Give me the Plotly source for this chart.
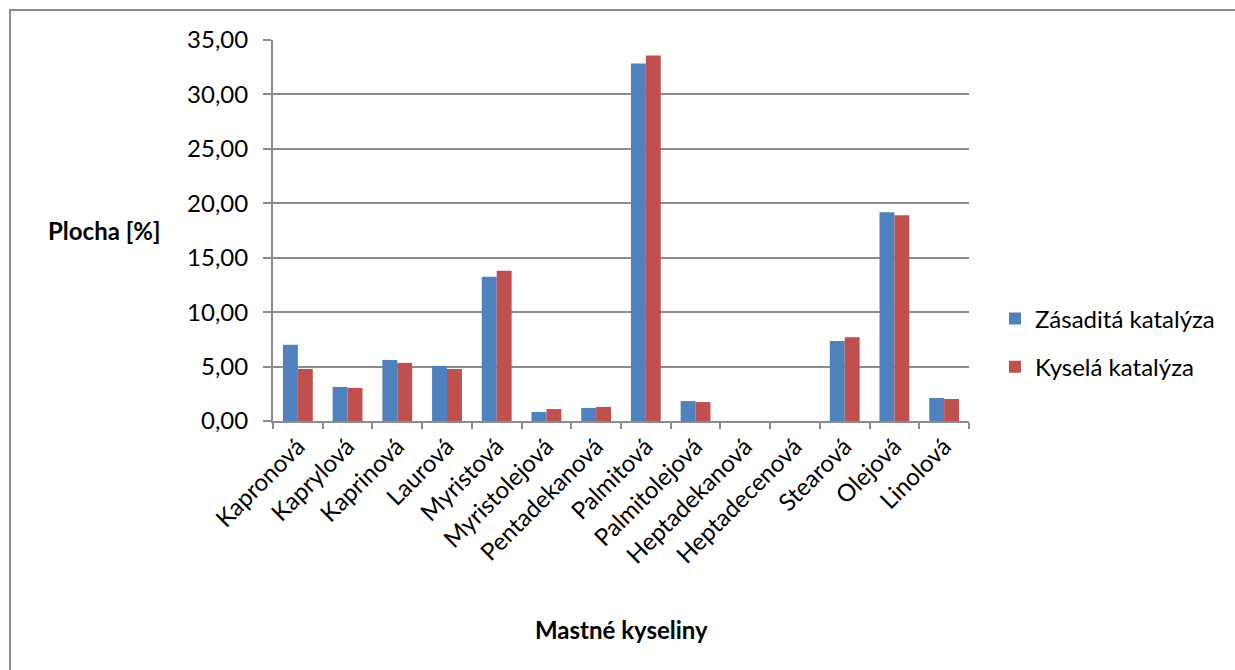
import plotly.graph_objects as go

# Fatty acid composition (area %) for the two catalysis routes
categories = ["Kapronová", "Kaprylová", "Kaprinová", "Laurová", "Myristová",
              "Myristolejová", "Pentadekanová", "Palmitová", "Palmitolejová",
              "Heptadekanová", "Heptadecenová", "Stearová", "Olejová", "Linolová"]
zasadita = [7.00, 3.13, 5.61, 5.06, 13.25, 0.83, 1.20, 32.84, 1.83, 0.0, 0.0, 7.34, 19.17, 2.11]
kysela = [4.78, 3.04, 5.34, 4.78, 13.80, 1.10, 1.29, 33.58, 1.74, 0.0, 0.0, 7.70, 18.90, 2.02]

series_names = ["Zásaditá katalýza", "Kyselá katalýza"]
colors = ["#4F81BD", "#C0504D"]

FONT = "Lato, 'Noto Sans', sans-serif"
GRID = "#8C8C8C"

W, H = 1235, 670
L, R, T, B = 273, 266, 40, 249
pw, ph = W - L - R, H - T - B


def px_to_paper_x(px):
    return (px - L) / pw


def px_to_paper_y(py):
    return (H - B - py) / ph


fig = go.Figure()
for i, (name, vals, col) in enumerate(zip(series_names, [zasadita, kysela], colors)):
    fig.add_trace(go.Bar(x=categories, y=vals, name=name, marker_color=col,
                         marker_line_width=0, legendgroup=f"g{i}"))

fig.update_layout(
    width=W, height=H,
    margin=dict(l=L, r=R, t=T, b=B),
    paper_bgcolor="white", plot_bgcolor="white",
    barmode="group", bargap=0.4, bargroupgap=0,
    separators=", ",
    font=dict(family=FONT, color="black"),
    showlegend=True,
    legend=dict(x=px_to_paper_x(995), y=px_to_paper_y(343),
                xanchor="left", yanchor="middle",
                traceorder="grouped", tracegroupgap=14,
                font=dict(size=24, family=FONT, color="black"),
                itemwidth=30, bgcolor="rgba(0,0,0,0)"),
)

fig.update_yaxes(range=[0, 35], dtick=5, tickformat=".2f",
                 showgrid=True, gridcolor=GRID, gridwidth=2,
                 showline=True, linecolor=GRID, linewidth=2,
                 ticks="outside", ticklen=8, tickcolor=GRID, tickwidth=2,
                 ticklabelstandoff=10,
                 tickfont=dict(size=24, family=FONT, color="black"),
                 zeroline=False)
fig.update_xaxes(showline=True, linecolor=GRID, linewidth=2,
                 ticks="outside", ticklen=6, tickcolor=GRID, tickwidth=2,
                 tickson="boundaries", tickangle=-45,
                 tickfont=dict(size=24, family=FONT, color="black"),
                 showgrid=False)

# Axis titles
fig.add_annotation(text="<b>Plocha [%]</b>", xref="paper", yref="paper",
                   x=px_to_paper_x(104), y=px_to_paper_y(230),
                   xanchor="center", yanchor="middle",
                   showarrow=False, font=dict(size=24, family=FONT, color="black"))
fig.add_annotation(text="<b>Mastné kyseliny</b>", xref="paper", yref="paper",
                   x=px_to_paper_x(621), y=px_to_paper_y(629),
                   xanchor="center", yanchor="middle",
                   showarrow=False, font=dict(size=24, family=FONT, color="black"))

# Chart-area frame
fig.add_shape(type="rect", xref="paper", yref="paper",
              x0=px_to_paper_x(10), y0=px_to_paper_y(700),
              x1=px_to_paper_x(1260), y1=px_to_paper_y(10),
              line=dict(color=GRID, width=2), layer="below")

fig.write_html("out.html")
